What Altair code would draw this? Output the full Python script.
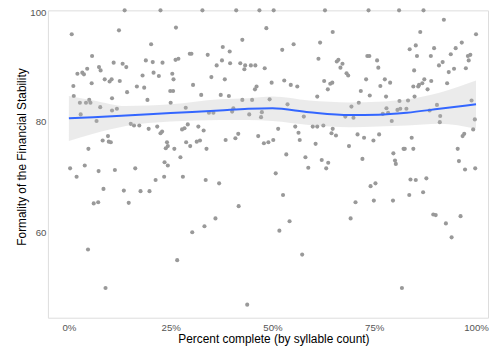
import altair as alt
import pandas as pd

# Scatter: percent complete (x, %) and formality score (y)
pct = [
    13.7, 22.5, 0.7, 12.3, 20.2, 5.7, 11.0, 13.2, 14.1, 18.9, 20.6, 23.0, 4.5, 7.4, 7.8, 2.1, 3.3, 3.7,
    8.8, 10.0, 10.5, 12.5, 18.1, 20.8, 22.1, 1.1, 5.6, 16.7, 18.5, 14.3, 1.2, 5.0, 2.7, 4.2, 5.3, 10.6,
    19.3, 7.7, 10.6, 11.8, 2.9, 6.8, 15.2, 16.0, 17.3, 19.6, 21.7, 22.9, 22.5, 9.6, 8.3, 9.8, 10.3, 4.8,
    32.8, 41.1, 46.8, 50.3, 26.3, 48.5, 42.6, 37.8, 39.5, 29.7, 30.1, 34.1, 26.2, 26.9, 37.6, 36.3, 39.6,
    42.1, 43.3, 43.1, 44.7, 45.8, 48.1, 25.4, 25.7, 35.0, 38.3, 30.5, 49.8, 24.9, 25.6, 45.7, 46.1, 32.5,
    37.3, 39.3, 42.6, 45.0, 49.3, 25.0, 28.7, 40.4, 40.1, 34.4, 35.5, 47.4, 44.3, 47.2, 29.2, 27.8, 28.4,
    31.8, 33.1, 41.6, 46.5, 50.2, 38.5, 40.9, 32.2, 31.4, 28.8, 29.8, 24.1, 24.3, 23.8, 25.9, 33.8, 47.9,
    49.0, 27.4,
    0.3, 3.9, 1.9, 7.3, 11.3, 16.3, 23.5, 24.3, 21.3, 23.4, 8.5, 13.5, 17.6, 19.8, 6.1, 7.2, 14.7, 4.7, 9.0,
    28.0, 33.6, 36.9, 41.7, 36.0, 33.3, 30.3, 26.6, 43.8,
    58.1, 62.1, 63.7, 58.8, 63.2, 72.1, 50.8, 74.1, 75.3, 52.6, 70.4, 74.9, 69.2, 54.2, 51.7, 57.3,
    80.1, 80.3, 95.8, 97.3, 99.8, 83.9, 85.2, 87.8, 79.6, 83.6, 87.0, 89.5, 90.1, 96.2, 92.6, 94.0, 81.8,
    62.9, 73.6, 64.8, 61.7, 55.2, 52.4, 73.3, 73.8, 61.3, 65.8, 66.2, 67.2, 66.7, 68.2, 68.6, 73.0, 52.9,
    54.5, 56.1, 62.7, 64.2, 64.7, 63.6, 71.7, 73.9, 61.0, 71.2, 53.7, 69.4, 57.7, 67.9, 69.9, 51.4, 55.6,
    59.9, 61.0, 62.5, 64.8, 64.5, 65.6, 56.4, 70.9, 72.5, 56.7, 74.8, 60.6, 68.8, 53.4,
    81.1, 87.1, 92.1, 86.3, 100.0, 96.5, 85.2, 83.7, 89.7, 95.0, 85.5, 88.9, 93.8, 98.0, 98.6, 75.7, 98.2,
    91.8, 90.9, 76.0, 84.8, 94.6, 93.3, 97.5, 77.6, 78.9, 76.5, 87.3, 86.8, 86.0, 85.8, 84.6, 89.0, 92.9,
    88.1, 77.9, 84.9, 81.2, 83.3, 98.9, 78.0, 80.7, 81.4, 82.9, 77.1, 78.4, 90.4, 88.6, 91.2, 79.3, 91.1,
    99.7, 99.3, 76.2, 97.1, 96.7, 84.2, 82.2, 82.5, 84.6, 95.5, 79.7,
]
formality = [
    100, 100, 95.7, 96.4, 93.9, 91.8, 90.6, 90.4, 89.8, 91.0, 90.7, 90.6, 89.5, 89.8, 89.2, 88.6, 88.8, 88.5,
    87.6, 87.2, 87.6, 87.3, 88.3, 88.8, 88.2, 86.4, 86.9, 86.3, 86.1, 85.3, 84.6, 83.9, 83.4, 83.4, 83.4, 84.2,
    83.9, 82.6, 82.0, 82.3, 81.3, 80.1, 79.6, 79.3, 79.3, 78.7, 79.1, 78.2, 77.9, 77.4, 76.6, 76.4, 76.3, 75.1,
    100, 100, 100, 100, 96.9, 96.8, 94.7, 93.4, 92.6, 92.2, 92.2, 92.0, 91.1, 91.3, 91.0, 90.1, 90.5,
    90.5, 90.1, 89.4, 90.1, 90.1, 89.6, 88.6, 87.6, 88.0, 87.6, 86.6, 87.0, 85.5, 85.5, 85.8, 86.3, 84.8,
    84.8, 84.6, 83.9, 83.9, 84.0, 83.4, 82.5, 82.4, 81.8, 81.6, 81.6, 81.7, 81.3, 80.8, 79.5, 78.6, 78.8,
    79.1, 78.4, 77.8, 77.4, 76.7, 76.7, 77.0, 76.6, 76.4, 76.3, 75.6, 76.3, 75.6, 75.2, 75.1, 75.1, 76.1,
    76.3, 73.6,
    71.6, 72.1, 70.1, 71.1, 71.3, 71.6, 72.7, 72.1, 69.5, 70.1, 67.9, 67.6, 67.5, 67.5, 65.3, 65.5, 65.4, 57.0, 50.1,
    70.1, 69.5, 68.9, 64.8, 62.6, 61.2, 60.1, 55.1, 47.1,
    73.6, 73.1, 72.6, 71.7, 71.6, 73.3, 70.7, 68.4, 68.9, 66.8, 65.5, 65.8, 62.6, 62.1, 60.4, 56.1,
    73.0, 72.4, 72.9, 71.4, 71.6, 69.6, 69.5, 69.8, 65.8, 66.8, 67.3, 63.3, 63.2, 63.0, 61.7, 59.2, 50.1,
    100, 100, 96.1, 94.2, 93.9, 92.9, 91.8, 91.8, 91.3, 90.8, 91.1, 90.4, 89.7, 88.7, 88.3, 87.6, 87.4,
    86.6, 86.3, 87.3, 86.8, 87.0, 85.8, 85.5, 84.7, 84.5, 83.4, 83.1, 82.7, 80.9, 80.9, 80.7, 78.7, 79.1,
    79.1, 79.1, 79.3, 78.7, 77.9, 77.5, 78.0, 77.7, 77.1, 76.7, 76.6, 76.0, 75.6, 74.1,
    100, 100, 98.3, 96.1, 95.7, 94.2, 93.7, 93.0, 93.2, 93.2, 91.8, 91.8, 92.1, 91.8, 92.0, 91.0, 91.0,
    90.7, 90.1, 89.7, 89.2, 89.5, 88.9, 89.6, 87.6, 87.0, 86.4, 87.6, 86.9, 86.6, 86.3, 86.3, 87.3, 86.9,
    85.8, 84.5, 84.5, 83.7, 83.8, 83.8, 82.4, 82.1, 82.3, 82.3, 81.4, 81.6, 83.0, 82.0, 81.0, 80.1, 79.9,
    80.4, 78.6, 77.7, 77.8, 77.4, 77.1, 75.1, 75.1, 75.1, 75.1, 74.3,
]

# Smoothed trend and its confidence band
smooth_x = [0, 6, 14, 25, 37, 44, 50, 59, 69, 76, 83, 91, 100]
smooth_fit = [80.6, 80.8, 81.1, 81.55, 82.0, 82.3, 82.4, 81.7, 81.2, 81.25, 81.6, 82.3, 83.1]
band_lo = [76.5, 77.8, 79.2, 80.0, 80.3, 80.3, 80.1, 79.4, 79.0, 79.1, 79.3, 79.6, 78.7]
band_hi = [84.6, 83.8, 82.8, 83.1, 84.0, 84.2, 84.5, 83.8, 83.45, 83.55, 84.0, 85.2, 87.4]

x_ticks = [0, 25, 50, 75, 100]
y_ticks = [60, 80, 100]

pts = pd.DataFrame({"pct": pct, "formality": formality})
sm = pd.DataFrame({"pct": smooth_x, "fit": smooth_fit, "lo": band_lo, "hi": band_hi})

FONT = "Liberation Sans"
xscale = alt.Scale(domain=[-5.147, 102.94], nice=False, zero=False)
yscale = alt.Scale(domain=[44.75, 100], nice=False, zero=False)

xaxis = alt.Axis(
    title="Percent complete (by syllable count)",
    values=x_ticks,
    labelExpr="datum.value + '%'",
    grid=False, domain=False, ticks=False, tickSize=0,
    labelPadding=5, labelFontSize=9.7, labelColor="#555555", labelFont=FONT,
    titleFont=FONT, titleFontSize=11.9, titleFontWeight="normal", titleColor="#000000",
    titleX=226, titleY=25, titleBaseline="alphabetic", titleAlign="center",
)
yaxis = alt.Axis(
    title="Formality of the Financial Stability",
    values=y_ticks,
    grid=False, domain=False, ticks=False, tickSize=0,
    labelOffset={"condition": {"test": "datum.value === 100", "value": 2}, "value": 0},
    labelPadding=2, labelFontSize=9.7, labelColor="#555555", labelFont=FONT,
    titleFont=FONT, titleFontSize=11.9, titleFontWeight="normal", titleColor="#000000",
    titleX=-26, titleY=146.5, titleAngle=270, titleBaseline="middle", titleAlign="center",
)

points = alt.Chart(pts).mark_circle(size=17, color="#999999", opacity=1).encode(
    x=alt.X("pct:Q", scale=xscale, axis=xaxis),
    y=alt.Y("formality:Q", scale=yscale, axis=yaxis),
)

band = alt.Chart(sm).mark_area(color="#bdbdbd", opacity=0.3, interpolate="monotone").encode(
    x=alt.X("pct:Q", scale=xscale),
    y=alt.Y("lo:Q", scale=yscale),
    y2="hi:Q",
)

line = alt.Chart(sm).mark_line(color="#3366FF", strokeWidth=2, interpolate="monotone").encode(
    x=alt.X("pct:Q", scale=xscale),
    y=alt.Y("fit:Q", scale=yscale),
)

chart = alt.layer(points, band, line).properties(
    width=441,
    height=308,
    padding={"left": 40, "top": 2, "right": 1, "bottom": 29},
    autosize=alt.AutoSizeParams(type="none"),
).configure_view(stroke=None).configure(background="white")

chart.save("out.html", embed_options={"renderer": "svg", "actions": False})
